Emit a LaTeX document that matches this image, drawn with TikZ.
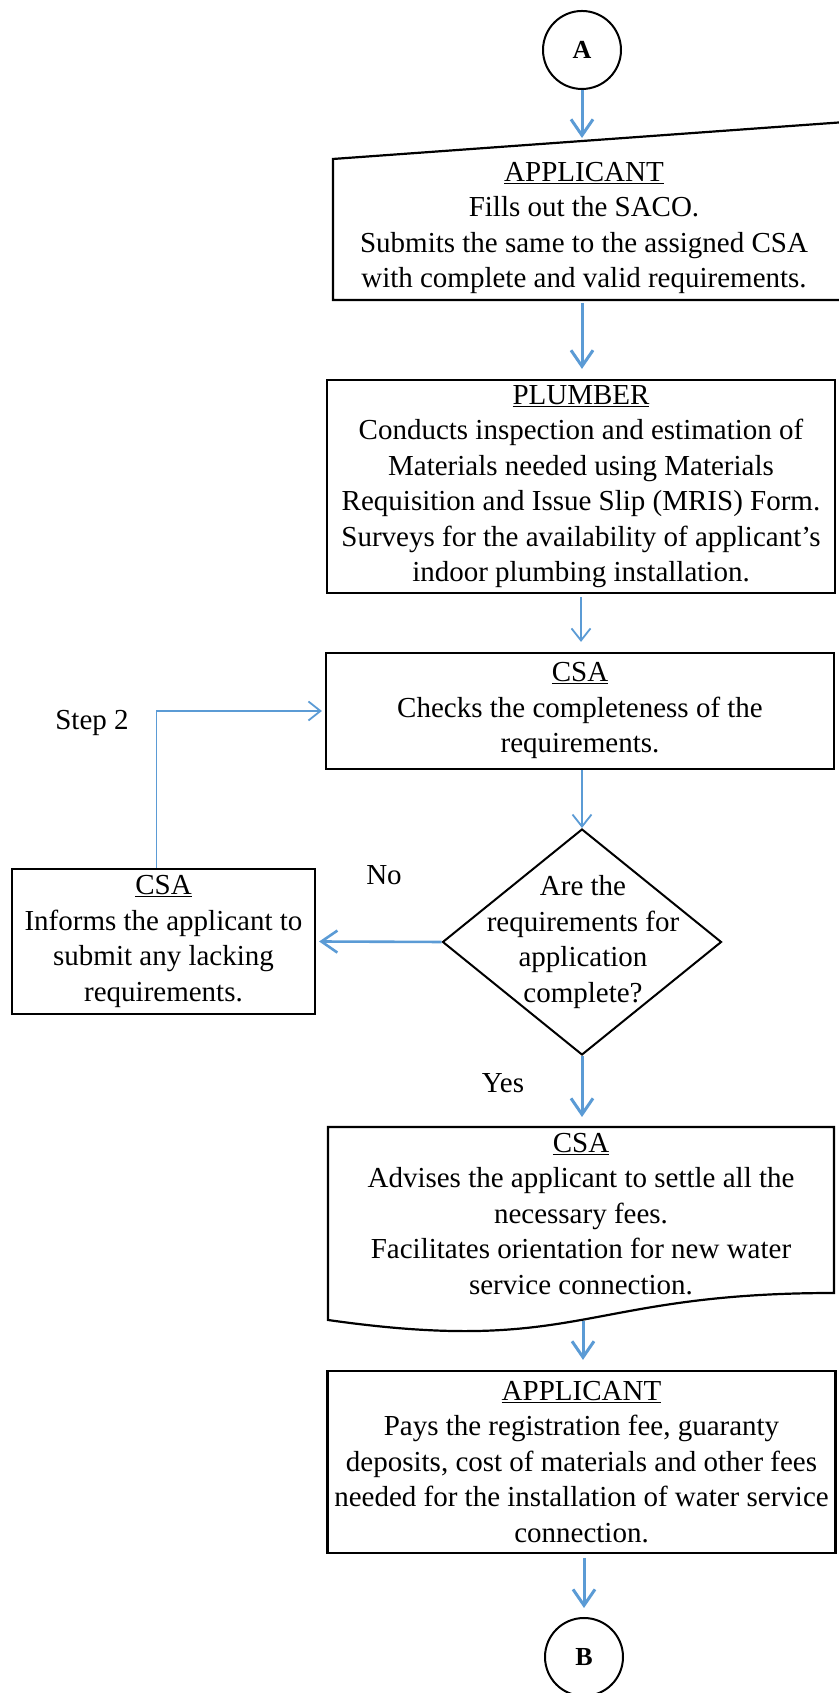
\documentclass[tikz,border=0pt]{standalone}
\usepackage{fontspec}
\setmainfont{Liberation Serif}
\usetikzlibrary{arrows.meta,shapes.geometric}
\definecolor{flowblue}{RGB}{91,155,213}

\begin{document}
\begin{tikzpicture}[x=1pt,y=1pt,
  every node/.style={font=\fontsize{29}{35.5}\selectfont},
  box/.style={draw,line width=2.2pt,align=center,inner sep=0pt,minimum width=508pt},
  conn/.style={draw,line width=2pt,circle,minimum size=78pt,inner sep=0pt,font=\fontsize{26}{30}\selectfont\bfseries},
  decision/.style={draw,line width=2pt,diamond,minimum width=279pt,minimum height=226pt,inner sep=0pt},
  flow/.style={flowblue,line width=3pt,-{Straight Barb[length=16pt,width=22pt]}},
  thinflow/.style={flowblue,line width=1.8pt,-{Straight Barb[length=12pt,width=19pt]}}
]
\useasboundingbox (0,0) rectangle (838,1693);

\node[conn] (A) at (582,1643) {A};

% manual input, the right side runs off the page
\draw[line width=2.2pt] (333,1534) -- (846,1571) -- (846,1393) -- (333,1393) -- cycle;
\node[align=center] (apply) at (584,1465) {\underline{APPLICANT}\\Fills out the SACO.\\Submits the same to the assigned CSA\\with complete and valid requirements.};
\coordinate (applytop) at (582,1552);
\coordinate (applybot) at (582,1393);

\node[box,minimum height=213pt] (plumber) at (581,1206.5) {\underline{PLUMBER}\\Conducts inspection and estimation of\\Materials needed using Materials\\Requisition and Issue Slip (MRIS) Form.\\Surveys for the availability of applicant’s\\indoor plumbing installation.};

\node[box,minimum height=116pt] (check) at (580,982) {\underline{CSA}\\Checks the completeness of the\\requirements.};

\node[decision] (ok) at (582,751) {};
\node[align=center] (okq) at (583,751) {Are the\\requirements for\\application\\complete?};

\node[box,minimum width=303pt,minimum height=145pt] (lack) at (163.5,751.5) {\underline{CSA}\\Informs the applicant to\\submit any lacking\\requirements.};

% document shape with wavy bottom
\draw[line width=2.2pt] (328,566) -- (834,566) -- (834,400) .. controls (581,400) and (581,337) .. (328,373) -- cycle;
\node[align=center] (advise) at (581,479) {\underline{CSA}\\Advises the applicant to settle all the\\necessary fees.\\Facilitates orientation for new water\\service connection.};
\coordinate (advisetop) at (582,566);
\coordinate (advisebot) at (583,372);

\node[box,minimum height=182pt] (pay) at (581.5,231) {\underline{APPLICANT}\\Pays the registration fee, guaranty\\deposits, cost of materials and other fees\\needed for the installation of water service\\connection.};

\node[conn] (B) at (584,36) {B};

\node (step) at (92,970) {Step 2};
\node (no) at (384,818) {No};
\node (yes) at (503,610) {Yes};

\draw[flow,shorten >=3pt] (A) -- (applytop);
\draw[flow,shorten <=3pt,shorten >=10pt] (applybot) -- (applybot |- plumber.north);
\draw[thinflow,shorten <=3pt,shorten >=10pt] (plumber.south) -- (plumber.south |- check.north);
\draw[thinflow] (ok.north |- check.south) -- (ok.north);
\draw[flow,line width=2.6pt,shorten >=3pt] (ok.west) -- (lack.east);
\draw[thinflow,shorten >=3pt] ([xshift=-7pt]lack.north) |- (check.west);
\draw[flow,shorten >=10pt] (ok.south) -- (advisetop);
\draw[flow,shorten >=10pt] (advisebot) -- (advisebot |- pay.north);
\draw[flow,shorten <=4pt,shorten >=9pt] (B.north |- pay.south) -- (B.north);
\end{tikzpicture}
\end{document}
